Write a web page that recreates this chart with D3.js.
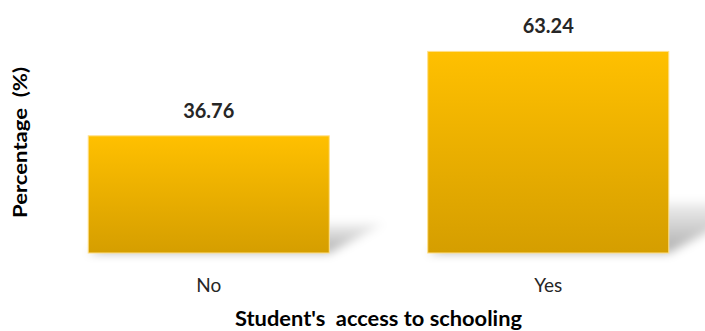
<!DOCTYPE html>
<html>
<head>
<meta charset="utf-8">
<script src="https://cdn.jsdelivr.net/npm/d3@7"></script>
<style>
  html, body { margin: 0; padding: 0; background: #fff; }
  svg { display: block; }
</style>
</head>
<body>
<svg id="chart" width="705" height="331"></svg>
<script>
// Survey result: share of students with access to schooling
const categories = ["No", "Yes"];
const values = [36.76, 63.24];
const valueLabels = ["36.76", "63.24"];
const xTitle = "Student's  access to schooling";
const yTitle = "Percentage  (%)";

const W = 705, H = 331;
const baseY = 253;
const svg = d3.select("#chart");
const FONT = "Lato, 'Open Sans', sans-serif";

const x = d3.scaleBand().domain(categories).range([39, 718]).paddingInner(0.29).paddingOuter(0.145);
const y = d3.scaleLinear().domain([0, 70]).range([baseY, baseY - 70 * 3.188]);

const defs = svg.append("defs");
const barGrad = defs.append("linearGradient")
  .attr("id", "barGrad").attr("x1", 0).attr("y1", 0).attr("x2", 0).attr("y2", 1);
barGrad.append("stop").attr("offset", "0%").attr("stop-color", "#FFC000");
barGrad.append("stop").attr("offset", "100%").attr("stop-color", "#D59E00");

const shGrad = defs.append("linearGradient")
  .attr("id", "shGrad").attr("x1", 0).attr("y1", 1).attr("x2", 0).attr("y2", 0);
shGrad.append("stop").attr("offset", "0%").attr("stop-color", "#000").attr("stop-opacity", 0.32);
shGrad.append("stop").attr("offset", "100%").attr("stop-color", "#000").attr("stop-opacity", 0.06);

const blur = defs.append("filter").attr("id", "shBlur")
  .attr("x", "-30%").attr("y", "-60%").attr("width", "160%").attr("height", "220%");
blur.append("feGaussianBlur").attr("stdDeviation", 5);

const rows = categories.map((c, i) => ({ c, v: values[i], label: valueLabels[i] }));

// Perspective shadows cast up and to the right from each bar's base
svg.append("g").selectAll("polygon").data(rows).join("polygon")
  .attr("points", d => {
    const x0 = x(d.c), x1 = x(d.c) + x.bandwidth();
    const h = y(0) - y(d.v);
    const sh = 0.25 * h, dx = 1.85 * sh;
    return [[x0, baseY], [x1, baseY], [x1 + dx, baseY - sh], [x0 + dx, baseY - sh]].join(" ");
  })
  .attr("fill", "url(#shGrad)")
  .attr("filter", "url(#shBlur)");

// Bars
svg.append("g").selectAll("rect").data(rows).join("rect")
  .attr("x", d => x(d.c))
  .attr("y", d => y(d.v))
  .attr("width", x.bandwidth())
  .attr("height", d => y(0) - y(d.v))
  .attr("fill", "url(#barGrad)")
  .attr("stroke", "#FFE08A")
  .attr("stroke-width", 1);

// Value labels
svg.append("g").selectAll("text").data(rows).join("text")
  .attr("x", d => x(d.c) + x.bandwidth() / 2)
  .attr("y", d => y(d.v) - 18)
  .attr("text-anchor", "middle")
  .attr("font-family", FONT)
  .attr("font-weight", "bold")
  .attr("font-size", 20)
  .attr("fill", "#262626")
  .text(d => d.label);

// Category axis (no line, no ticks)
const xAxis = svg.append("g")
  .attr("transform", `translate(0,${baseY})`)
  .call(d3.axisBottom(x).tickSize(0).tickPadding(0));
xAxis.select(".domain").remove();
xAxis.selectAll("text")
  .attr("y", 39).attr("dy", 0)
  .attr("font-family", FONT)
  .attr("font-size", 19)
  .attr("fill", "#262626");

// Axis titles
svg.append("text")
  .attr("x", 378.5).attr("y", 326)
  .attr("text-anchor", "middle")
  .attr("font-family", FONT)
  .attr("font-weight", "bold")
  .attr("font-size", 20)
  .attr("fill", "#000")
  .attr("textLength", 287)
  .attr("lengthAdjust", "spacingAndGlyphs")
  .style("white-space", "pre")
  .text(xTitle);

svg.append("text")
  .attr("transform", "translate(27,142.5) rotate(-90)")
  .attr("text-anchor", "middle")
  .attr("font-family", FONT)
  .attr("font-weight", "bold")
  .attr("font-size", 19)
  .attr("fill", "#000")
  .attr("textLength", 151)
  .attr("lengthAdjust", "spacingAndGlyphs")
  .style("white-space", "pre")
  .text(yTitle);
</script>
</body>
</html>
